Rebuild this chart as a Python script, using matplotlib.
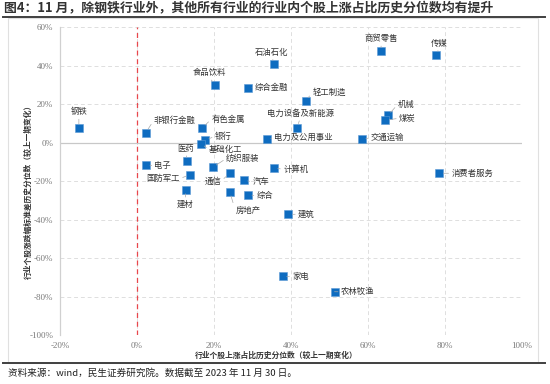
import matplotlib
matplotlib.use("Agg")
import matplotlib.pyplot as plt
from matplotlib.lines import Line2D
from matplotlib.patches import Rectangle
from matplotlib.ticker import FuncFormatter

plt.rcParams['font.family'] = ['Noto Sans CJK SC', 'DejaVu Sans']

industries = ['钢铁', '非银行金融', '有色金属', '银行', '基础化工', '医药', '电子', '国防军工',
              '纺织服装', '通信', '汽车', '建材', '房地产', '综合', '食品饮料', '综合金融',
              '石油石化', '商贸零售', '传媒', '轻工制造', '电力设备及新能源', '机械', '煤炭',
              '交通运输', '电力及公用事业', '计算机', '消费者服务', '建筑', '家电', '农林牧渔']
x_change = [-15.1, 2.3, 16.9, 17.7, 16.6, 13.1, 2.3, 13.8,
            19.7, 24.1, 27.7, 12.6, 24.1, 28.8, 20.3, 28.8,
            35.6, 63.4, 77.7, 43.9, 41.6, 65.2, 64.5,
            58.4, 33.7, 35.5, 78.5, 39.3, 37.8, 51.3]
y_change = [7.6, 5.2, 7.6, 1.2, -0.5, -9.7, -11.8, -16.6,
            -12.8, -15.9, -19.4, -24.4, -25.6, -27.1, 30.0, 28.5,
            40.7, 47.3, 45.4, 21.6, 7.8, 14.1, 11.6,
            1.7, 1.7, -13.0, -15.9, -37.2, -69.4, -77.4]
# label offsets in pixels (dx right, dy up) - layout only
label_offsets = [(0, 16), (29, 12.6), (26, 8.7), (18, 4), (25, -6), (-1.6, 12.7), (17, 0), (-27, -4),
                 (30, 8.7), (-17, -7.7), (17, -2), (0, -14.7), (18, -18), (17, -1), (-6, 12), (24, 0),
                 (-2, 12), (0, 12.7), (3, 11.7), (23, 9), (3, 14), (18, 11), (22, 2),
                 (26, 1.7), (37, 1.7), (22, -1.7), (33, 0), (18, 0), (18, 0), (23, 0)]

x_ticks = [-20, 0, 20, 40, 60, 80, 100]
y_ticks = [-100, -80, -60, -40, -20, 0, 20, 40, 60]

fig = plt.figure(figsize=(5.5, 3.84), dpi=100)
ax = fig.add_axes([60/550, 1-335.3/384, 462/550, (335.3-27)/384])

ax.set_xlim(-20, 100)
ax.set_ylim(-100, 60)
ax.set_xticks(x_ticks)
ax.set_yticks(y_ticks)
ax.xaxis.set_major_formatter(FuncFormatter(lambda v, p: f'{int(v)}%'))
ax.yaxis.set_major_formatter(FuncFormatter(lambda v, p: f'{int(v)}%'))
for lab in ax.get_xticklabels() + ax.get_yticklabels():
    lab.set_fontfamily('Liberation Serif')
    lab.set_fontsize(6.5)
    lab.set_color('#7a7a7a')
ax.tick_params(length=0, pad=5)

ax.grid(True, linestyle=(0, (4, 3)), color='#dedede', linewidth=0.7)
ax.set_axisbelow(True)
for s in ['top', 'right', 'bottom']:
    ax.spines[s].set_visible(False)
ax.spines['left'].set_color('#d0d0d0')
ax.spines['left'].set_linewidth(0.9)
ax.axhline(0, color='#c8c8c8', linewidth=0.9, zorder=1)
ax.axvline(0, color='#e8474c', linewidth=0.9, linestyle=(0, (4, 3)), zorder=1)

ax.scatter(x_change, y_change, marker='s', s=26, color='#0e6cc0', edgecolors='#5b9ad6',
           linewidths=0.4, zorder=3)

for name, xv, yv, (dx, dy) in zip(industries, x_change, y_change, label_offsets):
    ax.annotate(name, (xv, yv), xytext=(dx, dy), textcoords='offset pixels',
                ha='center', va='center', fontsize=6.0, color='#333333',
                arrowprops=dict(arrowstyle='-', color='#a8a8a8', lw=0.5,
                                shrinkA=0, shrinkB=3,
                                relpos=(0.0 if dx > 12 else (1.0 if dx < -12 else 0.5),
                                        0.5 if abs(dx) > 12 else (0.0 if dy > 0 else 1.0))),
                zorder=4)

ax.set_xlabel('行业个股上涨占比历史分位数（较上一期变化）', fontsize=5.6, color='#333333',
              fontweight='bold')
ax.xaxis.set_label_coords((276.7-60)/462, (335.3-351)/308.3)
ax.set_ylabel('行业个股涨跌幅标准差历史分位数（较上一期变化）', fontsize=5.6, color='#333333',
              fontweight='bold')
ax.yaxis.set_label_coords((33-60)/462, (335.3-190)/308.3)

# frame and title decorations
fig.patches.append(Rectangle((8/550, 1-363/384), 530/550, (363-18)/384, transform=fig.transFigure,
                             fill=False, edgecolor='#e0e0e0', linewidth=0.8))
fig.add_artist(Line2D([3/550, 545/550], [1-17/384, 1-17/384], transform=fig.transFigure,
                      color='#404040', linewidth=1.4))
fig.add_artist(Line2D([3/550, 545/550], [1-363/384, 1-363/384], transform=fig.transFigure,
                      color='#404040', linewidth=1.4))
fig.text(4/550, 1-8/384, '图4：11 月，除钢铁行业外，其他所有行业的行业内个股上涨占比历史分位数均有提升',
         fontsize=9.3, fontweight='bold', color='#333333', ha='left', va='center')
fig.text(8/550, 1-373/384, '资料来源：wind，民生证券研究院。数据截至 2023 年 11 月 30 日。',
         fontsize=6.9, color='#222222', ha='left', va='center')

fig.savefig('out.png', dpi=100)
